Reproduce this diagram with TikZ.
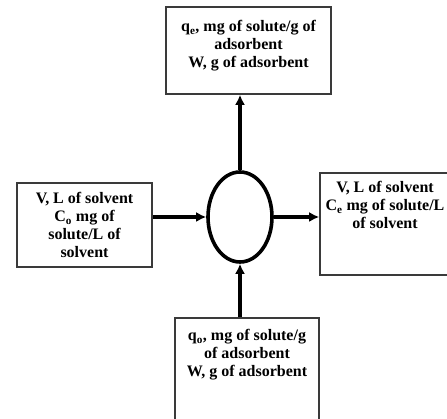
\documentclass[tikz,border=0pt]{standalone}
\usepackage{fontspec}
\setmainfont{Liberation Serif}
\usepackage{tikz}
\usetikzlibrary{arrows.meta,calc,positioning,shapes.geometric}
\definecolor{INK}{HTML}{000000}
\definecolor{EDGE}{HTML}{3A3A3A}

\begin{document}
\begin{tikzpicture}[x=1pt,y=1pt]
\tikzset{box/.style={draw=EDGE,line width=1.6pt,fill=white,inner sep=0pt},
 txt/.style={align=center,inner sep=0pt,font=\fontsize{16}{18}\selectfont\bfseries},
 flow/.style={-{Latex[length=10pt,width=10pt]},line width=3.6pt,INK},
 cell/.style={ellipse,draw=INK,line width=3.6pt,minimum width=64pt,minimum height=90pt,inner sep=0pt}}
\useasboundingbox (0,0) rectangle (447,419);
\fill[white] (0,0) rectangle (447,419);
% reactor and the four streams
\node[cell] (ell) at (240,202) {};
\node[box,minimum width=165pt,minimum height=87pt] (tbox) at (248.5,368.5) {};
\node[box,minimum width=135pt,minimum height=84pt] (lbox) at (84.5,194) {};
\node[box,minimum width=130pt,minimum height=102pt] (rbox) at (385,195) {};
\node[box,minimum width=144pt,minimum height=107pt] (bbox) at (247,47.5) {};
\node[txt,below=14pt of tbox.north] (ttxt) {q\textsubscript{e}, mg of solute/g of\\adsorbent\\W, g of adsorbent};
\node[txt] (ltxt) at (lbox.center) {V, L of solvent\\C\textsubscript{o} mg of\\solute/L of\\solvent};
\node[txt,below=9pt of rbox.north] (rtxt) {V, L of solvent\\C\textsubscript{e} mg of solute/L\\of solvent};
\node[txt,below=12pt of bbox.north] (btxt) {q\textsubscript{o}, mg of solute/g\\of adsorbent\\W, g of adsorbent};
\draw[flow] (lbox.east |- ell.west) -- (ell.west);
\draw[flow] (ell.east) -- (rbox.west |- ell.east);
\draw[flow] (ell.north) -- (tbox.south -| ell.north);
\draw[flow] (bbox.north -| ell.south) -- (ell.south);
\end{tikzpicture}
\end{document}
